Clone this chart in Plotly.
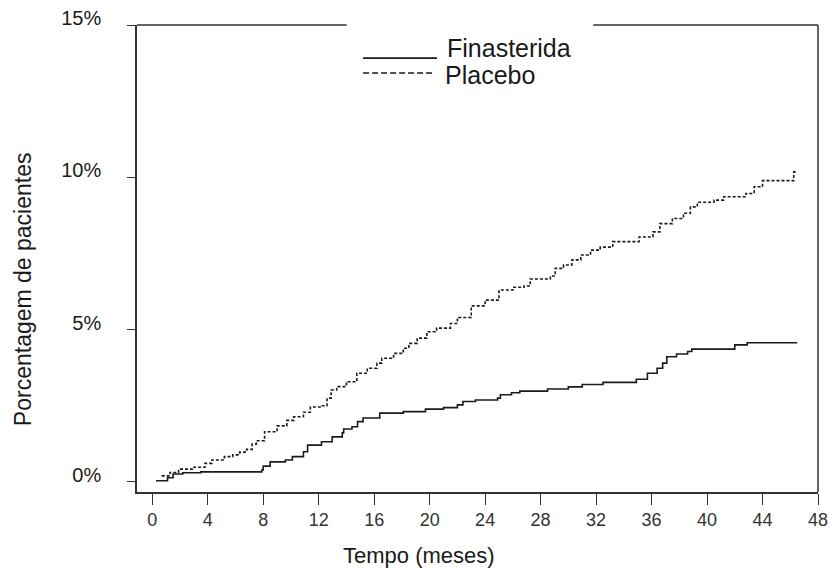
import plotly.graph_objects as go

# ---- data ----
fin_months = [0.27, 1.1, 1.5, 2.2, 3.5, 7.9, 8.0, 8.5, 9.6, 10.1, 10.9, 11.2, 12.2, 12.97, 13.7, 13.8,
              14.4, 14.8, 15.2, 16.4, 18.1, 19.7, 21.0, 22.0, 22.4, 23.3, 24.9, 25.1, 25.9, 26.5,
              28.5, 30.0, 31.0, 32.5, 34.9, 35.7, 36.4, 36.8, 37.1, 37.8, 38.6, 38.9, 42.0, 42.9, 46.5]
fin_pct = [0.04, 0.14, 0.26, 0.30, 0.33, 0.39, 0.52, 0.66, 0.72, 0.83, 0.99, 1.21, 1.32, 1.48, 1.61, 1.74,
           1.81, 1.98, 2.10, 2.26, 2.31, 2.39, 2.44, 2.53, 2.64, 2.69, 2.75, 2.86, 2.93, 2.98,
           3.05, 3.12, 3.20, 3.27, 3.37, 3.57, 3.73, 3.90, 4.11, 4.20, 4.28, 4.36, 4.50, 4.57, 4.57]

pla_months = [0.68, 1.28, 1.9, 2.9, 3.8, 4.3, 5.2, 5.8, 6.3, 6.8, 7.2, 7.5, 8.1, 9.0, 9.7, 10.2, 10.9,
              11.4, 12.2, 12.6, 12.9, 13.3, 14.0, 14.75, 15.5, 16.2, 16.55, 17.4, 18.1, 18.5, 19.1,
              19.8, 20.5, 21.5, 22.0, 23.0, 24.0, 25.0, 26.0, 26.8, 27.25, 28.7, 29.05, 29.65, 30.26,
              30.9, 31.6, 32.3, 33.2, 35.1, 36.1, 36.6, 37.5, 38.3, 38.8, 39.3, 40.5, 41.2, 42.8,
              43.4, 44.0, 46.25, 46.5]
pla_pct = [0.20, 0.31, 0.42, 0.48, 0.61, 0.72, 0.83, 0.89, 0.98, 1.07, 1.24, 1.35, 1.65, 1.84, 2.02, 2.14, 2.29,
           2.46, 2.50, 2.75, 3.02, 3.13, 3.29, 3.57, 3.73, 3.90, 4.06, 4.22, 4.39, 4.55, 4.72,
           4.93, 5.05, 5.20, 5.40, 5.78, 5.97, 6.30, 6.39, 6.43, 6.66, 6.76, 7.01, 7.12, 7.29,
           7.45, 7.61, 7.71, 7.89, 8.04, 8.21, 8.48, 8.65, 8.82, 9.03, 9.18, 9.25, 9.36, 9.47,
           9.69, 9.89, 10.18, 10.18]

x_ticks = [0, 4, 8, 12, 16, 20, 24, 28, 32, 36, 40, 44, 48]
y_ticks = [0, 5, 10, 15]
y_tick_labels = ["0%", "5%", "10%", "15%"]

series_names = ["Finasterida", "Placebo"]

FONT = "Liberation Sans, Arial, sans-serif"
INK = "#1a1a1a"
AXIS = "#333333"

fig = go.Figure()
fig.add_trace(go.Scatter(x=fin_months, y=fin_pct, mode="lines", line_shape="hv",
                         name=series_names[0], line=dict(color=INK, width=1.6),
                         showlegend=False))
fig.add_trace(go.Scatter(x=pla_months, y=pla_pct, mode="lines", line_shape="hv",
                         name=series_names[1], line=dict(color=INK, width=1.6, dash="3px,2px"),
                         showlegend=False))

fig.update_layout(
    width=830, height=572,
    margin=dict(l=137, r=12, t=25, b=80, autoexpand=False),
    paper_bgcolor="white", plot_bgcolor="white",
    font=dict(family=FONT, color=INK),
    xaxis=dict(range=[-1.1, 48.0], tickvals=x_ticks, ticks="outside", ticklen=11, tickwidth=1.2,
               tickcolor=AXIS, showline=True, linecolor=AXIS, linewidth=1.5, showgrid=False,
               zeroline=False, automargin=False, ticklabeloverflow="allow",
               tickfont=dict(size=18, color="#333333", family=FONT)),
    yaxis=dict(range=[-0.33, 15.0], tickvals=y_ticks, ticktext=y_tick_labels, ticks="outside",
               ticklen=8, tickwidth=1.2, tickcolor=AXIS, showline=True, linecolor=AXIS,
               linewidth=1.5, showgrid=False, zeroline=False, automargin=False,
               tickfont=dict(size=20, color=INK, family=FONT),
               ticklabelshift=-7, ticklabelstandoff=22, ticklabeloverflow="allow"),
    showlegend=False,
)

# frame: right side and top side with a gap for the legend
fig.add_shape(type="line", xref="paper", yref="paper", x0=1, x1=1, y0=0, y1=1,
              line=dict(color=AXIS, width=1.5))
fig.add_shape(type="line", xref="paper", yref="paper", x0=0, x1=0.308, y0=1, y1=1,
              line=dict(color=AXIS, width=1.5))
fig.add_shape(type="line", xref="paper", yref="paper", x0=0.670, x1=1, y0=1, y1=1,
              line=dict(color=AXIS, width=1.5))

# legend samples
fig.add_shape(type="line", xref="paper", yref="paper", x0=0.332, x1=0.4405, y0=0.929, y1=0.929,
              line=dict(color=INK, width=1.8))
fig.add_shape(type="line", xref="paper", yref="paper", x0=0.332, x1=0.4376, y0=0.897, y1=0.897,
              line=dict(color=INK, width=1.5, dash="6px,3px"))
fig.add_annotation(text=series_names[0], xref="paper", yref="paper", x=0.452, y=0.951,
                   xanchor="left", yanchor="middle", showarrow=False,
                   font=dict(size=25, color=INK, family=FONT))
fig.add_annotation(text=series_names[1], xref="paper", yref="paper", x=0.449, y=0.893,
                   xanchor="left", yanchor="middle", showarrow=False,
                   font=dict(size=25, color=INK, family=FONT))

# axis titles
fig.add_annotation(text="Tempo (meses)", xref="paper", yref="paper", x=0.414, y=-0.135,
                   xanchor="center", yanchor="middle", showarrow=False,
                   font=dict(size=22, color=INK, family=FONT))
fig.add_annotation(text="Porcentagem de pacientes", xref="paper", yref="paper", x=-0.167, y=0.435,
                   xanchor="center", yanchor="middle", textangle=-90, showarrow=False,
                   font=dict(size=23, color=INK, family=FONT))

fig.write_html("out.html", config={"displayModeBar": False},
               post_script="document.body.style.margin='0';document.body.style.overflow='hidden';")
